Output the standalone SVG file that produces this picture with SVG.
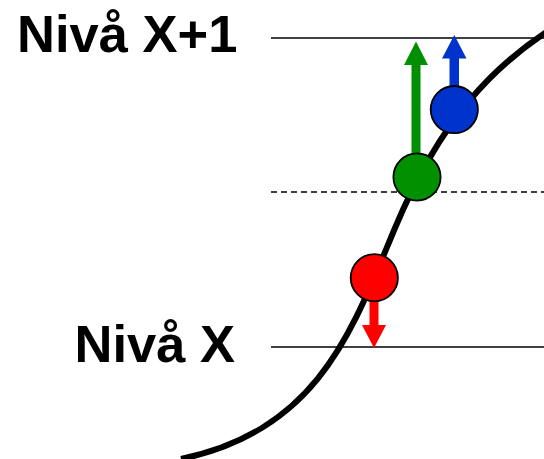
<svg xmlns="http://www.w3.org/2000/svg" width="544" height="459" viewBox="0 0 544 459">
<style>
.lvl{stroke:#000;stroke-width:1.5;fill:none}
.lbl{font-family:"Liberation Sans",Arial,sans-serif;font-weight:bold;font-size:52.5px;fill:#000}
.dot{stroke:#000;stroke-width:1.8}
</style>
<rect width="544" height="459" fill="#fff"/>
<g id="labels">
<text class="lbl" x="17" y="52">Nivå X+1</text>
<text class="lbl" x="74.5" y="361.5">Nivå X</text>
</g>
<g id="levels">
<line class="lvl" x1="271" y1="38" x2="544" y2="38"/>
<line class="lvl" x1="271" y1="192" x2="544" y2="192" stroke-dasharray="6 4"/>
<line class="lvl" x1="271" y1="347" x2="544" y2="347"/>
</g>
<g id="curve">
<path d="M181 459 C320 430 353 328 395 228 C437 128 490 60 580 12" fill="none" stroke="#000" stroke-width="6"/>
</g>
<g id="connectors">
<rect x="411.5" y="64" width="9" height="110" fill="#008f00"/>
<polygon points="404,65 428,65 416,41.5" fill="#008f00"/>
<rect x="449.5" y="57" width="9.5" height="53" fill="#0033cc"/>
<polygon points="442,58.5 466.5,58.5 454.3,35" fill="#0033cc"/>
<rect x="369.5" y="280" width="9" height="46" fill="#ff0000"/>
<polygon points="362,325 386,325 374,348" fill="#ff0000"/>
</g>
<g id="node-green"><circle class="dot" cx="417" cy="177" r="23.6" fill="#009000"/></g>
<g id="node-blue"><circle class="dot" cx="454.3" cy="109.6" r="23.6" fill="#0033cc"/></g>
<g id="node-red"><circle class="dot" cx="374.3" cy="277.7" r="23.6" fill="#ff0000"/></g>
</svg>
